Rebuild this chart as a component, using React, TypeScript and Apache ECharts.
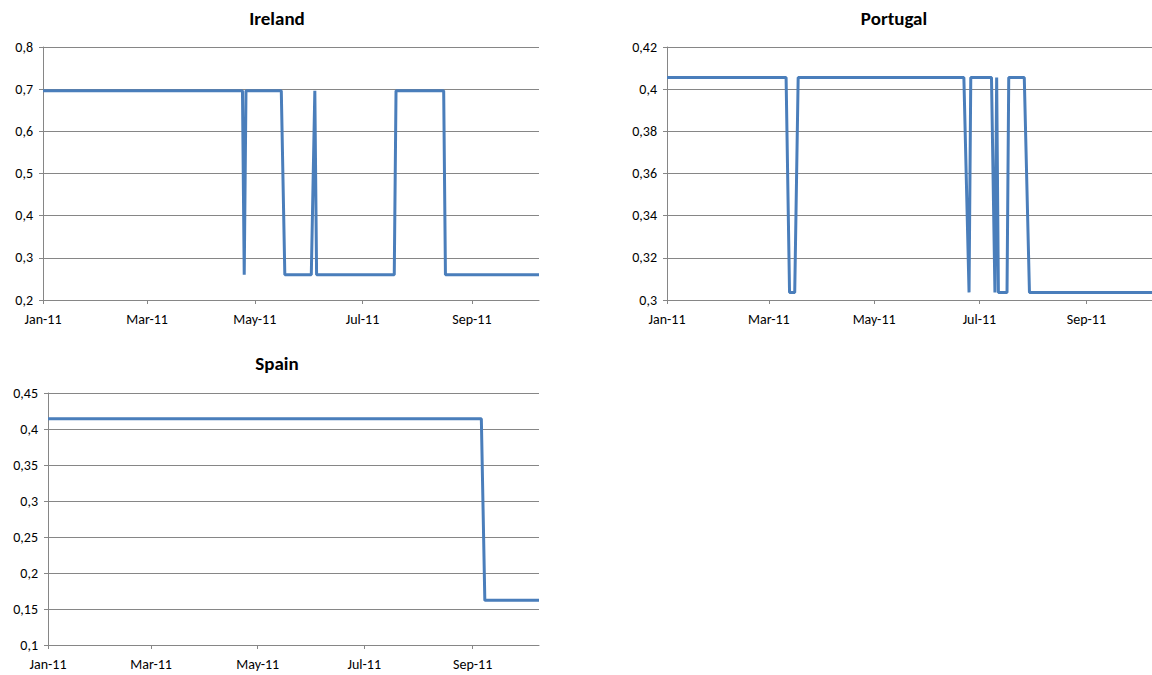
import React, { useEffect, useRef } from "react";
import * as echarts from "echarts";

// ---- data ----
const axisStart = "2011-01-01";
const axisEnd = "2011-10-09";
const tickDates = ["2011-01-01", "2011-03-01", "2011-05-01", "2011-07-01", "2011-09-01"];
const tickLabels = ["Jan-11", "Mar-11", "May-11", "Jul-11", "Sep-11"];

const irelandDates = [
  "2011-01-01", "2011-04-24", "2011-04-25", "2011-04-26", "2011-05-16", "2011-05-18",
  "2011-06-02", "2011-06-04", "2011-06-05", "2011-07-19", "2011-07-20", "2011-08-16",
  "2011-08-17", "2011-10-09",
];
const irelandValues = [
  0.696, 0.696, 0.26, 0.696, 0.696, 0.26,
  0.26, 0.696, 0.26, 0.26, 0.696, 0.696,
  0.26, 0.26,
];

const portugalDates = [
  "2011-01-01", "2011-03-11", "2011-03-13", "2011-03-16", "2011-03-18", "2011-06-22",
  "2011-06-25", "2011-06-26", "2011-07-08", "2011-07-10", "2011-07-11", "2011-07-12",
  "2011-07-17", "2011-07-18", "2011-07-27", "2011-07-30", "2011-10-09",
];
const portugalValues = [
  0.4055, 0.4055, 0.3036, 0.3036, 0.4055, 0.4055,
  0.3036, 0.4055, 0.4055, 0.3036, 0.4055, 0.3036,
  0.3036, 0.4055, 0.4055, 0.3036, 0.3036,
];

const spainDates = ["2011-01-01", "2011-09-06", "2011-09-08", "2011-10-09"];
const spainValues = [0.4143, 0.4143, 0.162, 0.162];

const titles = ["Ireland", "Portugal", "Spain"];

// ---- helpers ----
const dayOf = (s: string) =>
  (Date.parse(s + "T00:00:00Z") - Date.parse(axisStart + "T00:00:00Z")) / 86400000;

const tickDays = tickDates.map(dayOf);
const endDay = dayOf(axisEnd);

const toPairs = (dates: string[], vals: number[]) => dates.map((d, i) => [dayOf(d), vals[i]]);

const GRAY = "#868686";
const LINE = "#4a7ebb";
const FONT = "Carlito, Calibri, Lato, sans-serif";

const xAxisFor = (gridIndex: number) => ({
  type: "value",
  gridIndex,
  min: 0,
  max: endDay,
  axisLine: { show: true, lineStyle: { color: GRAY, width: 1 } },
  axisTick: { show: true, length: 4, lineStyle: { color: GRAY }, customValues: tickDays },
  axisLabel: {
    customValues: tickDays,
    margin: 12,
    color: "#000",
    fontFamily: FONT,
    fontSize: 14,
    formatter: (v: number) => {
      const i = tickDays.findIndex((t) => Math.abs(t - v) < 0.01);
      return i >= 0 ? tickLabels[i] : "";
    },
  },
  splitLine: { show: false },
});

const fmtY = (v: number) => String(Number(v.toFixed(3))).replace(".", ",");

const yAxisFor = (gridIndex: number, min: number, max: number, interval: number) => ({
  type: "value",
  gridIndex,
  min,
  max,
  interval,
  axisLine: { show: true, lineStyle: { color: GRAY, width: 1 } },
  axisTick: { show: true, length: 4, lineStyle: { color: GRAY } },
  axisLabel: { margin: 10, color: "#000", fontFamily: FONT, fontSize: 14, formatter: fmtY },
  splitLine: { show: true, lineStyle: { color: GRAY, width: 1 } },
});

const seriesFor = (idx: number, data: number[][]) => ({
  type: "line",
  xAxisIndex: idx,
  yAxisIndex: idx,
  data,
  showSymbol: false,
  symbol: "none",
  lineStyle: { color: LINE, width: 3 },
  itemStyle: { color: LINE },
});

const titleText = (text: string, x: number, y: number) => ({
  type: "text",
  x,
  y,
  style: {
    text,
    align: "center",
    verticalAlign: "middle",
    textAlign: "center",
    textVerticalAlign: "middle",
    fontFamily: FONT,
    fontWeight: "bold",
    fontSize: 19,
    fill: "#000",
  },
});

export default function App() {
  const ref = useRef<HTMLDivElement>(null);
  useEffect(() => {
    if (!ref.current) return;
    const chart = echarts.init(ref.current, null, { renderer: "svg" });
    chart.setOption({
      animation: false,
      backgroundColor: "#fff",
      grid: [
        { left: 43, top: 47, width: 496, height: 253 },
        { left: 667, top: 47, width: 488, height: 253 },
        { left: 48, top: 393, width: 491, height: 252 },
      ],
      xAxis: [xAxisFor(0), xAxisFor(1), xAxisFor(2)],
      yAxis: [
        yAxisFor(0, 0.2, 0.8, 0.1),
        yAxisFor(1, 0.3, 0.42, 0.02),
        yAxisFor(2, 0.1, 0.45, 0.05),
      ],
      series: [
        seriesFor(0, toPairs(irelandDates, irelandValues)),
        seriesFor(1, toPairs(portugalDates, portugalValues)),
        seriesFor(2, toPairs(spainDates, spainValues)),
      ],
      graphic: [
        titleText(titles[0], 277, 18),
        titleText(titles[1], 894, 18),
        titleText(titles[2], 277, 363),
      ],
    });
    return () => chart.dispose();
  }, []);
  return (
    <div
      ref={ref}
      style={{ position: "absolute", left: 0, top: 0, width: 1152, height: 675, overflow: "hidden" }}
    />
  );
}
